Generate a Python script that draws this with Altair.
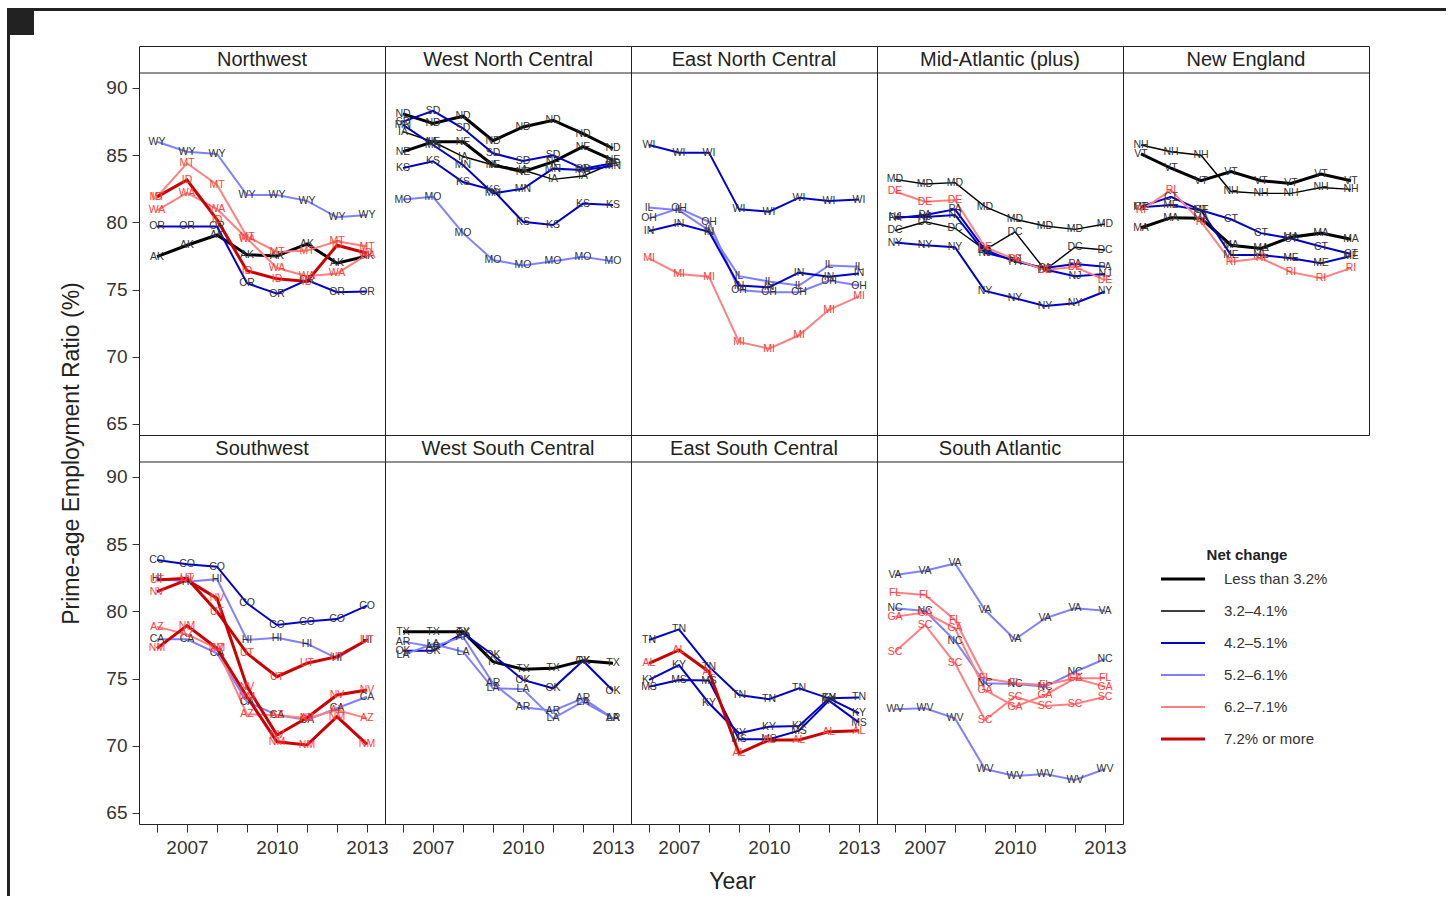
import altair as alt
import pandas as pd

# Years on the x axis
YEARS = [2006, 2007, 2008, 2009, 2010, 2011, 2012, 2013]

# Net change groups, their line styles and label colours
GROUPS = ["Less than 3.2%", "3.2–4.1%", "4.2–5.1%", "5.2–6.1%", "6.2–7.1%", "7.2% or more"]
LINE_COLORS = ["#000000", "#000000", "#0000CC", "#8080FF", "#FF8080", "#CC0000"]
LINE_WIDTHS = [3, 1.4, 2, 2, 2, 3]
LABEL_COLORS = ["#333333", "#333333", "#333333", "#333333", "#FF3C3C", "#FF3C3C"]

# Prime-age employment ratio (%) by state, 2006-2013
NORTHWEST = {
    "AK": [77.45, 78.3, 79.06, 77.6, 77.5, 78.4, 76.96, 77.5],
    "WY": [86.0, 85.26, 85.09, 82.04, 82.04, 81.6, 80.38, 80.55],
    "OR": [79.7, 79.7, 79.7, 75.47, 74.7, 75.7, 74.8, 74.85],
    "MT": [81.9, 84.4, 82.8, 78.94, 77.8, 77.9, 78.6, 78.2],
    "WA": [80.9, 82.2, 81.0, 78.8, 76.6, 76.0, 76.2, 77.6],
    "ID": [81.9, 83.15, 80.2, 76.4, 75.8, 75.6, 78.3, 77.7],
}
WEST_NORTH_CENTRAL = {
    "ND": [88.07, 87.37, 87.9, 86.08, 87.1, 87.6, 86.6, 85.5],
    "NE": [85.26, 86.0, 86.0, 84.27, 83.77, 84.5, 85.64, 84.64],
    "IA": [86.75, 86.0, 84.9, 84.27, 83.9, 83.2, 83.45, 84.4],
    "SD": [87.5, 88.3, 87.0, 85.14, 84.57, 85.0, 84.0, 84.4],
    "MN": [87.25, 85.76, 84.27, 82.16, 82.5, 84.0, 83.9, 84.2],
    "KS": [84.05, 84.55, 83.0, 82.4, 80.05, 79.8, 81.4, 81.3],
    "MO": [81.7, 81.9, 79.2, 77.2, 76.8, 77.1, 77.45, 77.1],
}
EAST_NORTH_CENTRAL = {
    "WI": [85.76, 85.19, 85.19, 80.97, 80.8, 81.84, 81.6, 81.7],
    "IL": [81.1, 80.9, 79.4, 76.0, 75.6, 75.3, 76.8, 76.7],
    "OH": [80.3, 81.05, 80.05, 74.97, 74.8, 74.8, 75.67, 75.3],
    "IN": [79.36, 79.9, 79.3, 75.3, 75.17, 76.26, 75.96, 76.2],
    "MI": [77.33, 76.16, 75.96, 71.1, 70.6, 71.6, 73.5, 74.5],
}
MID_ATLANTIC = {
    "MD": [83.2, 82.86, 82.96, 81.17, 80.23, 79.73, 79.48, 79.88],
    "DC": [79.4, 80.05, 79.56, 77.95, 79.3, 76.46, 78.15, 77.95],
    "NJ": [80.4, 80.4, 80.55, 77.74, 77.2, 76.5, 76.0, 76.16],
    "PA": [80.3, 80.55, 80.97, 77.95, 77.08, 76.6, 76.9, 76.7],
    "NY": [78.5, 78.3, 78.15, 74.9, 74.35, 73.78, 73.98, 74.86],
    "DE": [82.3, 81.54, 81.67, 78.15, 77.25, 76.46, 76.7, 75.7],
}
NEW_ENGLAND = {
    "VT": [85.1, 84.03, 83.1, 83.78, 83.1, 82.9, 83.6, 83.1],
    "MA": [79.6, 80.35, 80.3, 78.3, 78.06, 78.9, 79.2, 78.74],
    "NH": [85.76, 85.26, 85.0, 82.3, 82.16, 82.16, 82.6, 82.46],
    "ME": [81.12, 81.3, 80.9, 77.57, 77.57, 77.33, 76.96, 77.5],
    "CT": [81.17, 81.9, 80.9, 80.23, 79.2, 78.8, 78.2, 77.65],
    "RI": [80.9, 82.4, 80.05, 77.08, 77.33, 76.3, 75.85, 76.6],
}
SOUTHWEST = {
    "CO": [83.82, 83.5, 83.33, 80.6, 78.99, 79.24, 79.43, 80.43],
    "HI": [82.46, 82.2, 82.4, 77.87, 78.04, 77.6, 76.5, 77.87],
    "CA": [77.92, 77.92, 76.88, 73.28, 72.29, 71.92, 72.79, 73.65],
    "AZ": [78.86, 78.29, 77.25, 72.34, 72.29, 72.04, 72.66, 72.04],
    "UT": [82.34, 82.46, 79.98, 76.88, 75.14, 76.14, 76.63, 77.87],
    "NV": [81.47, 82.34, 80.97, 74.4, 70.8, 72.09, 73.78, 74.15],
    "NM": [77.25, 78.94, 77.25, 73.65, 70.3, 70.06, 72.17, 70.1],
}
WEST_SOUTH_CENTRAL = {
    "TX": [78.49, 78.49, 78.49, 76.26, 75.69, 75.76, 76.33, 76.14],
    "OK": [77.08, 77.08, 78.37, 76.76, 74.9, 74.28, 76.33, 74.1],
    "AR": [77.75, 77.37, 78.12, 74.65, 72.86, 72.61, 73.53, 72.04],
    "LA": [76.76, 77.57, 77.0, 74.28, 74.2, 72.04, 73.28, 72.04],
}
EAST_SOUTH_CENTRAL = {
    "TN": [77.87, 78.66, 75.89, 73.78, 73.46, 74.28, 73.53, 73.6],
    "KY": [74.9, 76.01, 73.16, 70.93, 71.42, 71.47, 73.53, 72.42],
    "MS": [74.4, 74.9, 74.85, 70.48, 70.48, 71.12, 73.36, 71.72],
    "AL": [76.14, 77.13, 75.51, 69.44, 70.43, 70.43, 71.05, 71.12],
}
SOUTH_ATLANTIC = {
    "VA": [82.71, 83.03, 83.57, 80.1, 77.92, 79.48, 80.23, 80.05],
    "NC": [80.23, 80.03, 77.82, 74.65, 74.6, 74.4, 75.51, 76.46],
    "WV": [72.71, 72.79, 72.04, 68.27, 67.75, 67.9, 67.45, 68.27],
    "FL": [81.4, 81.22, 79.36, 75.02, 74.65, 74.52, 75.02, 75.02],
    "GA": [79.61, 79.91, 78.74, 74.15, 72.91, 73.78, 75.02, 74.4],
    "SC": [77.0, 78.99, 76.14, 71.92, 73.65, 72.96, 73.11, 73.65],
}

# Net change group index of each state
NET_CHANGE = {
    "AK": 0, "WY": 3, "OR": 2, "MT": 4, "WA": 4, "ID": 5,
    "ND": 0, "NE": 0, "IA": 1, "SD": 2, "MN": 2, "KS": 2, "MO": 3,
    "WI": 2, "IN": 2, "IL": 3, "OH": 3, "MI": 4,
    "MD": 1, "DC": 1, "NJ": 2, "PA": 2, "NY": 2, "DE": 4,
    "VT": 0, "MA": 0, "NH": 1, "ME": 2, "CT": 2, "RI": 4,
    "CO": 2, "HI": 3, "CA": 3, "AZ": 4, "UT": 5, "NV": 5, "NM": 5,
    "TX": 0, "OK": 2, "AR": 3, "LA": 3,
    "TN": 2, "KY": 2, "MS": 2, "AL": 5,
    "VA": 3, "NC": 3, "WV": 3, "FL": 4, "GA": 4, "SC": 4,
}

REGIONS = [
    ("Northwest", NORTHWEST),
    ("West North Central", WEST_NORTH_CENTRAL),
    ("East North Central", EAST_NORTH_CENTRAL),
    ("Mid-Atlantic (plus)", MID_ATLANTIC),
    ("New England", NEW_ENGLAND),
    ("Southwest", SOUTHWEST),
    ("West South Central", WEST_SOUTH_CENTRAL),
    ("East South Central", EAST_SOUTH_CENTRAL),
    ("South Atlantic", SOUTH_ATLANTIC),
]

FONT = "Liberation Sans"
INK = "#222222"
W, H = 246, 389          # panel size, strip included
STRIP = 27               # height of the title strip
Y_DOMAIN = [64.18, 93.125]
X_DOMAIN = [2005.4, 2013.6]

line_color = alt.Scale(domain=GROUPS, range=LINE_COLORS)
label_color = alt.Scale(domain=GROUPS, range=LABEL_COLORS)


def region_table(series):
    rows = []
    for state, values in series.items():
        g = NET_CHANGE[state]
        for year, v in zip(YEARS, values):
            rows.append({"state": state, "year": year, "value": v,
                         "group": GROUPS[g], "width": LINE_WIDTHS[g], "order": g})
    return pd.DataFrame(rows)


def panel(name, series, col, row):
    df = region_table(series)
    bottom = row == 1

    if bottom:
        x_axis = alt.Axis(
            values=YEARS, format="d",
            labelExpr="datum.value == 2007 || datum.value == 2010 || datum.value == 2013 ? datum.label : ''",
            tickSize=8, labelPadding=6, labelFontSize=19, labelFlush=False,
            domain=False, grid=False,
            title="Year" if name == "East South Central" else None,
            titleX=101, titleY=57, titleBaseline="middle", titleAlign="center",
            titleFontSize=23, titleFontWeight="normal",
        )
    else:
        x_axis = None

    if col == 0:
        y_axis = alt.Axis(
            values=[65, 70, 75, 80, 85, 90], tickSize=7, labelPadding=5,
            labelFontSize=19, domain=False, grid=False,
            title="Prime-age Employment Ratio (%)" if row == 0 else None,
            titleX=-68, titleY=407, titleAngle=-90, titleAlign="center",
            titleBaseline="middle", titleFontSize=23, titleFontWeight="normal",
        )
    else:
        y_axis = None

    x = alt.X("year:Q", scale=alt.Scale(domain=X_DOMAIN, nice=False, zero=False), axis=x_axis)
    y = alt.Y("value:Q", scale=alt.Scale(domain=Y_DOMAIN, nice=False, zero=False), axis=y_axis)

    base = alt.Chart(df)
    lines = base.mark_line().encode(
        x=x, y=y, detail="state:N",
        color=alt.Color("group:N", scale=line_color, legend=None),
        strokeWidth=alt.StrokeWidth("width:Q", scale=None),
        order=alt.Order("year:Q"),
    )
    labels = base.mark_text(font=FONT, fontSize=10.5).encode(
        x=x, y=y, text="state:N",
        color=alt.Color("group:N", scale=label_color, legend=None),
    )

    strip = pd.DataFrame({"region": [name]})
    strip_rule = alt.Chart(strip).mark_rule(color=INK, strokeWidth=1).encode(
        x=alt.value(0), x2=alt.value(W), y=alt.value(STRIP)
    )
    strip_text = alt.Chart(strip).mark_text(font=FONT, fontSize=20, color=INK).encode(
        x=alt.value(W / 2), y=alt.value(STRIP / 2 + 0.5), text="region:N"
    )

    layers = [lines, labels, strip_rule, strip_text]

    if col == 0 and row == 0:
        # dark page frame: top bar, left bar and corner block
        frame = pd.DataFrame({"part": ["top", "left", "corner"],
                              "x0": [-132, -132, -129], "x1": [1307, -129, -105],
                              "y0": [-38, -38, -36], "y1": [-35, 850, -11]})
        layers.append(
            alt.Chart(frame).mark_rect(color=INK).encode(
                x=alt.X("x0:Q", scale=None), x2="x1:Q",
                y=alt.Y("y0:Q", scale=None), y2="y1:Q",
            )
        )

    return alt.layer(*layers).resolve_scale(color="independent").properties(width=W, height=H)


def legend_cell():
    items = pd.DataFrame({"group": GROUPS, "idx": list(range(len(GROUPS))),
                          "width": LINE_WIDTHS})
    ypos = alt.Y("idx:Q", scale=alt.Scale(domain=[0, 5], range=[144, 304]), axis=None)
    keys = alt.Chart(items).mark_rule().encode(
        x=alt.value(38), x2=alt.value(82), y=ypos,
        color=alt.Color("group:N", scale=line_color, legend=None),
        strokeWidth=alt.StrokeWidth("width:Q", scale=None),
    )
    texts = alt.Chart(items).mark_text(
        font=FONT, fontSize=15, align="left", baseline="middle", color="#333333"
    ).encode(x=alt.value(101), y=ypos, text="group:N")
    title = alt.Chart(pd.DataFrame({"t": ["Net change"]})).mark_text(
        font=FONT, fontSize=15, fontWeight="bold", color=INK
    ).encode(x=alt.value(124), y=alt.value(120), text="t:N")
    return alt.layer(keys, texts, title).properties(
        width=W, height=H, view=alt.ViewBackground(strokeOpacity=0)
    )


cells = []
for i, (name, series) in enumerate(REGIONS):
    cells.append(panel(name, series, i % 5, i // 5))
cells.append(legend_cell())

chart = alt.concat(*cells, columns=5, spacing=0, bounds="flush").properties(
    padding={"left": 6, "top": 7, "right": 0, "bottom": 0},
    background="white",
).configure_view(
    stroke=INK, strokeWidth=1
).configure_axis(
    labelFont=FONT, titleFont=FONT, labelColor="#333333", titleColor=INK,
    tickColor="#333333", tickWidth=1,
).configure_text(font=FONT)

chart.save("out.html", embed_options={"renderer": "svg", "actions": False})
